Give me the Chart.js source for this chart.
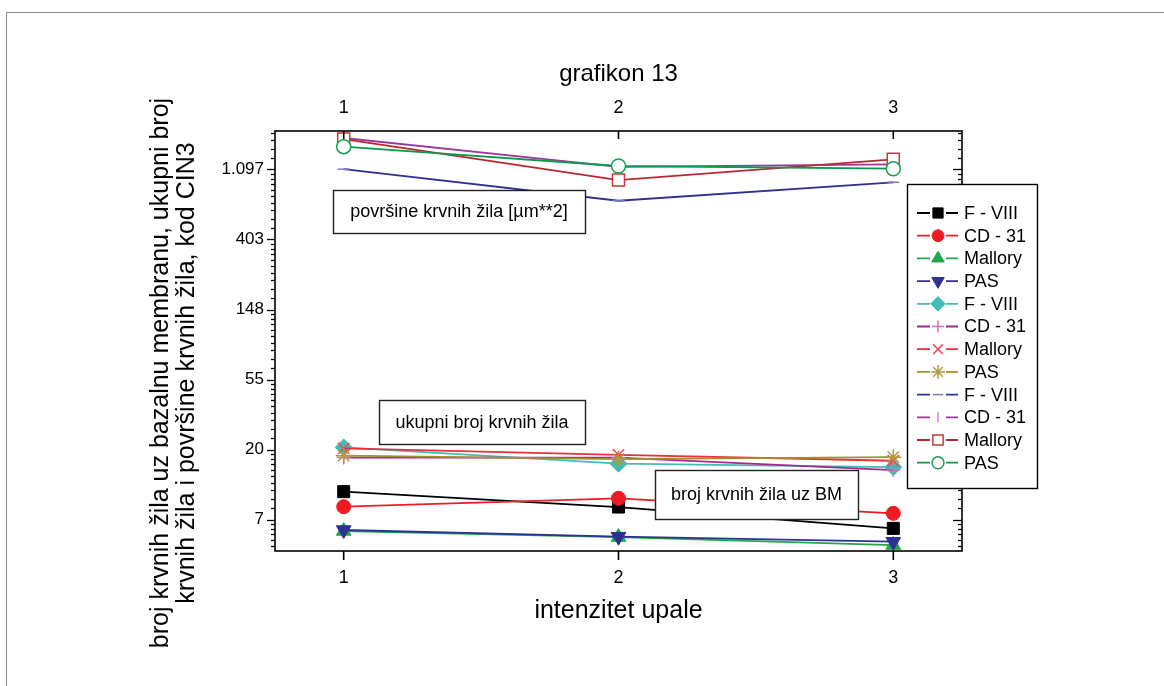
<!DOCTYPE html>
<html><head><meta charset="utf-8">
<script src="https://cdn.jsdelivr.net/npm/chart.js@4.4.1/dist/chart.umd.min.js"></script>
<style>
html,body{margin:0;padding:0;background:#fff;}
#wrap{position:relative;width:1164px;height:686px;overflow:hidden;}
#frame{position:absolute;left:6px;top:12px;width:1200px;height:700px;border-left:1px solid #8c8c8c;border-top:1px solid #8c8c8c;}
canvas{position:absolute;left:0;top:0;}
</style></head><body>
<div id="wrap"><div id="frame"></div><canvas id="c" width="1164" height="686"></canvas></div>
<script>
// ---- data ----
const categories = [1, 2, 3];
const xTickLabels = ['1', '2', '3'];
const yTickLabels = ['7', '20', '55', '148', '403', '1.097'];
const yTickExponents = [2, 3, 4, 5, 6, 7];
const seriesNames = ['F - VIII', 'CD - 31', 'Mallory', 'PAS', 'F - VIII', 'CD - 31', 'Mallory', 'PAS', 'F - VIII', 'CD - 31', 'Mallory', 'PAS'];

// broj krvnih žila uz BM
const fviiiBM = [11.0, 8.83, 6.51];
const cd31BM = [8.87, 10.0, 8.07];
const malloryBM = [6.27, 5.75, 5.13];
const pasBM = [6.36, 5.78, 5.38];
// ukupni broj krvnih žila
const fviiiTotal = [20.7, 16.4, 15.6];
const cd31Total = [17.9, 17.9, 14.98];
const malloryTotal = [20.4, 18.6, 17.1];
const pasTotal = [18.4, 17.5, 18.0];
// površine krvnih žila
const fviiiArea = [1102, 702, 913];
const cd31Area = [1720, 1137, 1181];
const malloryArea = [1695, 943, 1268];
const pasArea = [1520, 1153, 1109];

const chartTitle = 'grafikon 13';
const xTitle = 'intenzitet upale';
const yTitle = ['broj krvnih žila uz bazalnu membranu, ukupni broj', 'krvnih žila i površine krvnih žila, kod CIN3'];
const boxTexts = ['površine krvnih žila [µm**2]', 'ukupni broj krvnih žila', 'broj krvnih žila uz BM'];

// ---- styles ----
const FONT = "'Liberation Sans', Arial, Helvetica, sans-serif";
const seriesValues = [fviiiBM, cd31BM, malloryBM, pasBM, fviiiTotal, cd31Total, malloryTotal, pasTotal, fviiiArea, cd31Area, malloryArea, pasArea];
const looks = [
  {line:'#000000', mk:'#000000', fill:'#000000', style:'rect', r:8.5, rot:0, bw:1},
  {line:'#ed1c24', mk:'#ed1c24', fill:'#ed1c24', style:'circle', r:7, rot:0, bw:1},
  {line:'#22a84a', mk:'#22a84a', fill:'#22a84a', style:'triangle', r:8.5, rot:0, bw:1},
  {line:'#2e3192', mk:'#2e3192', fill:'#2e3192', style:'triangle', r:8.5, rot:180, bw:1},
  {line:'#3fbdb7', mk:'#3fbdb7', fill:'#3fbdb7', style:'rectRot', r:8.5, rot:0, bw:1},
  {line:'#a8278f', mk:'#d070c0', fill:'#d070c0', style:'cross', r:7, rot:0, bw:1.5},
  {line:'#ee2d3a', mk:'#f04654', fill:'#f04654', style:'crossRot', r:8, rot:0, bw:1.5},
  {line:'#a3902d', mk:'#b09a40', fill:'#b09a40', style:'star', r:8, rot:0, bw:1.5},
  {line:'#2e3192', mk:'#7a7ac4', fill:'#7a7ac4', style:'line', r:6, rot:0, bw:1.5},
  {line:'#9c3a9c', mk:'#c888c8', fill:'#c888c8', style:'line', r:6, rot:90, bw:1.5},
  {line:'#b8282f', mk:'#c0393f', fill:'#ffffff', style:'rect', r:8.5, rot:0, bw:1.5},
  {line:'#0c9a4a', mk:'#1aa050', fill:'#ffffff', style:'circle', r:7, rot:0, bw:1.5},
];

const datasets = seriesValues.map((vals, i) => ({
  label: seriesNames[i],
  data: categories.map((c, j) => ({x: c, y: vals[j]})),
  borderColor: looks[i].line,
  borderWidth: 1.8,
  backgroundColor: looks[i].fill,
  pointStyle: looks[i].style,
  pointRadius: looks[i].r,
  pointRotation: looks[i].rot,
  pointBorderColor: looks[i].mk,
  pointBackgroundColor: looks[i].fill,
  pointBorderWidth: looks[i].bw,
  tension: 0,
  fill: false,
  clip: false,
  order: seriesValues.length - i
}));

function seg(ctx, x1, y1, x2, y2) { ctx.beginPath(); ctx.moveTo(x1, y1); ctx.lineTo(x2, y2); ctx.stroke(); }

const decor = {
  id: 'decor',
  afterDraw(chart) {
    const {ctx, chartArea: a, scales} = chart;
    const ys = scales.y, xs = scales.x;
    ctx.save();
    // frame
    ctx.strokeStyle = '#000';
    ctx.lineWidth = 1.6;
    ctx.strokeRect(a.left, a.top, a.right - a.left, a.bottom - a.top);
    ctx.lineWidth = 1.3;
    // minor y ticks
    for (let n = 1; n <= 7; n++) {
      const lo = Math.exp(n), hi = Math.exp(n + 1);
      for (let k = 1; k <= 9; k++) {
        const v = lo + k * (hi - lo) / 10;
        if (v < ys.min || v > ys.max) continue;
        const p = Math.round(ys.getPixelForValue(v)) + 0.5;
        seg(ctx, a.left - 4, p, a.left, p);
        seg(ctx, a.right, p, a.right - 4, p);
      }
    }
    yTickExponents.forEach(e => {
      const p = Math.round(ys.getPixelForValue(Math.exp(e))) + 0.5;
      seg(ctx, a.left - 8, p, a.left, p);
      seg(ctx, a.right, p, a.right - 9, p);
    });
    ctx.lineWidth = 1.6;
    categories.forEach(c => {
      const p = xs.getPixelForValue(c);
      seg(ctx, p, a.bottom, p, a.bottom + 9);
      seg(ctx, p, a.top, p, a.top + 8);
    });
    // y title
    ctx.fillStyle = '#000';
    ctx.font = '25px ' + FONT;
    ctx.textAlign = 'center';
    ctx.textBaseline = 'middle';
    yTitle.forEach((t, i) => {
      ctx.save();
      ctx.translate(161 + i * 26, 373);
      ctx.rotate(-Math.PI / 2);
      ctx.fillText(t, 0, 0);
      ctx.restore();
    });
    // text boxes
    const boxes = [
      {l: 333, t: 190, r: 585, b: 233},
      {l: 379, t: 400, r: 585, b: 444},
      {l: 655, t: 470, r: 858, b: 519},
    ];
    ctx.font = '18px ' + FONT;
    boxes.forEach((b, i) => {
      ctx.fillStyle = '#fff';
      ctx.fillRect(b.l, b.t, b.r - b.l, b.b - b.t);
      ctx.strokeStyle = '#222';
      ctx.lineWidth = 1.4;
      ctx.strokeRect(b.l + 0.5, b.t + 0.5, b.r - b.l, b.b - b.t);
      ctx.fillStyle = '#000';
      ctx.fillText(boxTexts[i], (b.l + b.r) / 2, (b.t + b.b) / 2 + 1);
    });
    // legend
    const L = {l: 907, t: 184, r: 1037, b: 488};
    ctx.fillStyle = '#fff';
    ctx.fillRect(L.l, L.t, L.r - L.l, L.b - L.t);
    ctx.strokeStyle = '#000';
    ctx.lineWidth = 1.4;
    ctx.strokeRect(L.l + 0.5, L.t + 0.5, L.r - L.l, L.b - L.t);
    ctx.font = '18px ' + FONT;
    ctx.textAlign = 'left';
    seriesNames.forEach((name, i) => {
      const y = 213 + i * 22.7;
      const lk = looks[i];
      ctx.strokeStyle = lk.line;
      ctx.lineWidth = 1.8;
      seg(ctx, 917, y, 958, y);
      ctx.fillStyle = '#fff';
      ctx.fillRect(930, y - 8, 16, 16);
      ctx.fillStyle = lk.fill;
      ctx.strokeStyle = lk.mk;
      ctx.lineWidth = lk.bw;
      Chart.helpers.drawPoint(ctx, {pointStyle: lk.style, rotation: lk.rot, radius: lk.r * 0.85, borderWidth: lk.bw}, 938, y);
      ctx.fillStyle = '#000';
      ctx.fillText(name, 964, y + 1);
    });
    ctx.restore();
  }
};

new Chart(document.getElementById('c'), {
  type: 'line',
  data: {datasets},
  options: {
    responsive: false,
    animation: false,
    events: [],
    layout: {padding: {left: 0, top: 0, right: 202, bottom: 0}},
    plugins: {legend: {display: false}, tooltip: {enabled: false}, title: {display: false}},
    scales: {
      x: {
        type: 'linear', position: 'bottom', min: 0.75, max: 3.25,
        afterBuildTicks: s => { s.ticks = categories.map(v => ({value: v})); },
        afterFit: s => { s.height = 135; },
        ticks: {autoSkip: false, maxRotation: 0, padding: 16, color: '#000', font: {size: 18, family: FONT},
                callback: (v, i) => xTickLabels[i]},
        grid: {display: false, drawTicks: false},
        border: {display: false},
        title: {display: true, text: xTitle, color: '#000', font: {size: 25, family: FONT}, padding: {top: 0, bottom: 60}}
      },
      x2: {
        type: 'linear', position: 'top', min: 0.75, max: 3.25,
        afterBuildTicks: s => { s.ticks = categories.map(v => ({value: v})); },
        afterFit: s => { s.height = 131; },
        ticks: {autoSkip: false, maxRotation: 0, padding: 12, color: '#000', font: {size: 18, family: FONT},
                callback: (v, i) => xTickLabels[i]},
        grid: {display: false, drawTicks: false},
        border: {display: false},
        title: {display: true, text: chartTitle, color: '#000', font: {size: 24, family: FONT}, padding: {top: 60, bottom: 0}}
      },
      y: {
        type: 'logarithmic', position: 'left', min: Math.exp(1.55), max: Math.exp(7.55),
        afterBuildTicks: s => { s.ticks = yTickExponents.map(e => ({value: Math.exp(e)})); },
        afterFit: s => { s.width = 275; },
        ticks: {autoSkip: false, padding: 11, color: '#000', font: {size: 17, family: FONT},
                callback: (v, i) => yTickLabels[i]},
        grid: {display: false, drawTicks: false},
        border: {display: false}
      }
    }
  },
  plugins: [decor]
});
</script>
</body></html>
